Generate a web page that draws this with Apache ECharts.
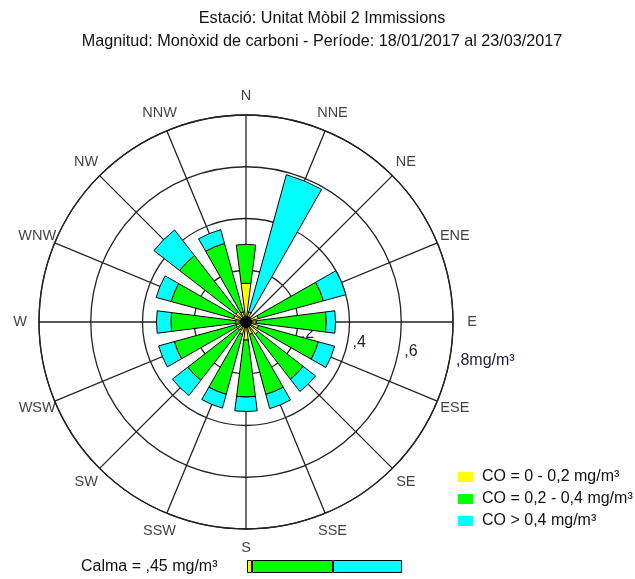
<!DOCTYPE html>
<html>
<head>
<meta charset="utf-8">
<script src="https://cdn.jsdelivr.net/npm/echarts@6/dist/echarts.min.js"></script>
<style>
html,body{margin:0;padding:0;background:#fff;}
#c{width:635px;height:579px;}
</style>
</head>
<body>
<div id="c"></div>
<script>
const dirs = ['N','NNE','NE','ENE','E','ESE','SE','SSE','S','SSW','SW','WSW','W','WNW','NW','NNW'];
const seriesNames = ['CO = 0 - 0,2 mg/m³','CO = 0,2 - 0,4 mg/m³','CO > 0,4 mg/m³'];
const co0_02  = [0.15,0.04,0.02,0.05,0.04,0.05,0.06,0.05,0.07,0.05,0.04,0.04,0.04,0.05,0.05,0.04];
const co02_04 = [0.15,0,0,0.26,0.27,0.24,0.22,0.24,0.22,0.24,0.245,0.247,0.25,0.25,0.275,0.275];
const coGt04  = [0,0.55,0,0.09,0.036,0.065,0.06,0.057,0.056,0.055,0.075,0.063,0.056,0.06,0.125,0.055];
const radiusTicks = [0.2,0.4,0.6,0.8];
const radiusLabels = [',2', ',4', ',6', ',8mg/m³'];
const calmLabel = 'Calma = ,45 mg/m³';
const calmShares = [3.2, 52.3, 44.5];
const titleLines = ['Estació: Unitat Mòbil 2 Immissions','Magnitud: Monòxid de carboni - Període: 18/01/2017 al 23/03/2017'];

const colors = ['#FFFF00','#00FF00','#00FFFF'];
const FONT = 'Liberation Sans, Arial, sans-serif';
const cx = 246, cy = 322, R = 207, rMax = 0.8, RL = 226;

const chart = echarts.init(document.getElementById('c'), null, {renderer:'canvas'});
const nz = a => a.map(v => v === 0 ? null : v);
const stacks = [co0_02, co02_04, coGt04];

const series = stacks.map((arr,i) => ({
  type:'bar', name: seriesNames[i], coordinateSystem:'polar', polarIndex:1,
  stack:'rose', data: nz(arr), barCategoryGap:'36%',
  itemStyle:{color:colors[i], borderColor:'#000', borderWidth:1},
  emphasis:{disabled:true}, z:3
}));
calmShares.forEach((v,i) => series.push({
  type:'bar', name:'calm'+i, xAxisIndex:0, yAxisIndex:0, stack:'calm',
  data:[v], barWidth:'100%',
  itemStyle:{color:colors[i], borderColor:'#000', borderWidth:1},
  emphasis:{disabled:true}
}));
// compass direction labels, centred on a ring just outside the rose
series.push({
  type:'scatter', name:'dirLabels', coordinateSystem:'polar', polarIndex:2,
  symbolSize:0, silent:true,
  data: dirs.map((d,i) => ({name:d, value:[1, i]})),
  label:{show:true, position:'inside', formatter:'{b}', fontFamily:FONT, fontSize:14.5, color:'#111'}
});

const graphics = radiusLabels.map((t,k) => ({
  type:'text', z:1,
  style:{text:t, x: cx + R*radiusTicks[k]/rMax + 3, y: cy + 12 + 9*k,
    font:'16px '+FONT, fill:'#1c1c3a', verticalAlign:'middle', align:'left'}
}));
graphics.push({type:'text', style:{text:calmLabel, x:81, y:567, font:'16px '+FONT, fill:'#111', verticalAlign:'middle'}});
graphics.push({type:'circle', z:5, shape:{cx:cx, cy:cy, r:6}, style:{fill:'#000'}});

const hiddenAxis = {axisLine:{show:false}, axisTick:{show:false}, axisLabel:{show:false}, splitLine:{show:false}};

chart.setOption({
  animation:false,
  title:{text: titleLines.join('\n'), left:317, top:2, textAlign:'center',
    textStyle:{fontFamily:FONT, fontSize:16.2, fontWeight:'normal', color:'#111', lineHeight:23}},
  legend:{data:seriesNames, orient:'vertical', left:458, top:469, padding:0, itemWidth:15, itemHeight:10, itemGap:6,
    icon:'rect', itemStyle:{borderWidth:0},
    textStyle:{fontFamily:FONT, fontSize:16, color:'#111', lineHeight:16, padding:[0,0,0,4]}},
  polar:[
    {center:[cx,cy], radius:R},
    {center:[cx,cy], radius:R},
    {center:[cx,cy], radius:RL}
  ],
  angleAxis:[
    {polarIndex:0, type:'value', min:0, max:360, interval:22.5, startAngle:90, clockwise:true,
      axisLine:{show:true, lineStyle:{color:'#222', width:1.3}}, axisTick:{show:false}, axisLabel:{show:false},
      splitLine:{show:true, lineStyle:{color:'#222', width:1.3}}},
    Object.assign({polarIndex:1, type:'category', data:dirs, startAngle:101.25, clockwise:true}, hiddenAxis),
    Object.assign({polarIndex:2, type:'category', data:dirs, startAngle:101.25, clockwise:true}, hiddenAxis)
  ],
  radiusAxis:[
    {polarIndex:0, type:'value', min:0, max:rMax, interval:0.2,
      axisLine:{show:false}, axisTick:{show:false}, axisLabel:{show:false},
      splitLine:{show:true, lineStyle:{color:'#222', width:1.3}}},
    Object.assign({polarIndex:1, type:'value', min:0, max:rMax}, hiddenAxis),
    Object.assign({polarIndex:2, type:'value', min:0, max:1}, hiddenAxis)
  ],
  grid:{left:247, top:560, width:155, height:13},
  xAxis:{type:'value', min:0, max:100, show:false},
  yAxis:{type:'category', data:['calma'], show:false},
  graphic:graphics,
  series:series
});
</script>
</body>
</html>
